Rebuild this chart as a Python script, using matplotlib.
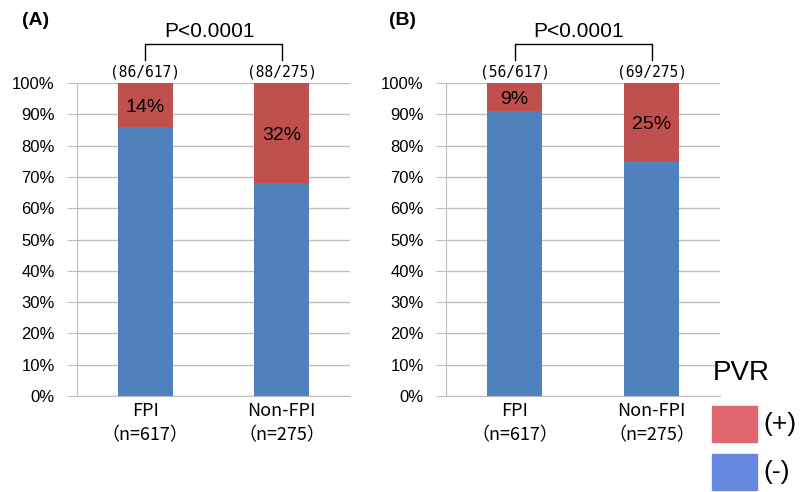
import matplotlib.pyplot as plt

plt.rcParams['font.family'] = ['Liberation Sans', 'Noto Sans CJK JP', 'DejaVu Sans']

groups = ["FPI\n（n=617）", "Non-FPI\n（n=275）"]
panels = ["(A)", "(B)"]
pos_counts = [[86, 88], [56, 69]]
totals = [617, 275]
pos_pct = [[14, 32], [9, 25]]
p_text = "P<0.0001"

RED = "#C0504D"
BLUE = "#4F81BD"
GRID = "#BFBFBF"

fig = plt.figure(figsize=(8.07, 4.92), dpi=100)
axes = [fig.add_axes([0.0954, 0.1951, 0.3383, 0.6362]),
        fig.add_axes([0.5527, 0.1951, 0.3395, 0.6362])]

for ax, label, cnt, pct in zip(axes, panels, pos_counts, pos_pct):
    x = range(len(groups))
    neg = [100 - p for p in pct]
    ax.bar(x, neg, width=0.4, color=BLUE, zorder=3)
    ax.bar(x, pct, width=0.4, bottom=neg, color=RED, zorder=3)
    for i in x:
        ax.text(i, neg[i] + pct[i] / 2 - 0.8, f"{pct[i]}%", ha="center", va="center",
                fontsize=14, zorder=4)
        ax.text(i, 103.4, f"({cnt[i]}/{totals[i]})", ha="center", va="center",
                fontsize=10.5, family="DejaVu Sans Mono")
    ax.set_xlim(-0.5, 1.5)
    ax.set_ylim(0, 100)
    ax.set_yticks(range(0, 101, 10))
    ax.set_yticklabels([f"{v}%" for v in range(0, 101, 10)], fontsize=12)
    ax.set_xticks(list(x))
    ax.set_xticklabels(groups, fontsize=13, linespacing=1.5,
                       family=['Noto Sans CJK JP', 'DejaVu Sans'])
    ax.tick_params(axis="x", length=0, pad=4)
    ax.tick_params(axis="y", length=7, color=GRID, pad=9)
    ax.yaxis.grid(True, color=GRID, lw=1, zorder=0)
    for s in ["top", "right"]:
        ax.spines[s].set_visible(False)
    for s in ["left", "bottom"]:
        ax.spines[s].set_color(GRID)
    # significance bracket
    ax.plot([0, 0, 1, 1], [107.3, 112.5, 112.5, 107.3], color="black", lw=1,
            clip_on=False)
    ax.text(0.47, 113.4, p_text, ha="center", va="bottom", fontsize=15)

fig.text(0.027, 0.959, panels[0], fontsize=14, fontweight="bold", va="center")
fig.text(0.482, 0.959, panels[1], fontsize=14, fontweight="bold", va="center")

# legend
fig.text(0.883, 0.242, "PVR", fontsize=20, va="center")
fig.patches.append(plt.Rectangle((0.882, 0.102), 0.056, 0.073,
                                 transform=fig.transFigure, color="#E06670"))
fig.patches.append(plt.Rectangle((0.882, 0.004), 0.056, 0.073,
                                 transform=fig.transFigure, color="#6688E0"))
fig.text(0.946, 0.139, "(+)", fontsize=19, va="center")
fig.text(0.946, 0.040, "(-)", fontsize=19, va="center")

fig.savefig("out.png", dpi=100)
